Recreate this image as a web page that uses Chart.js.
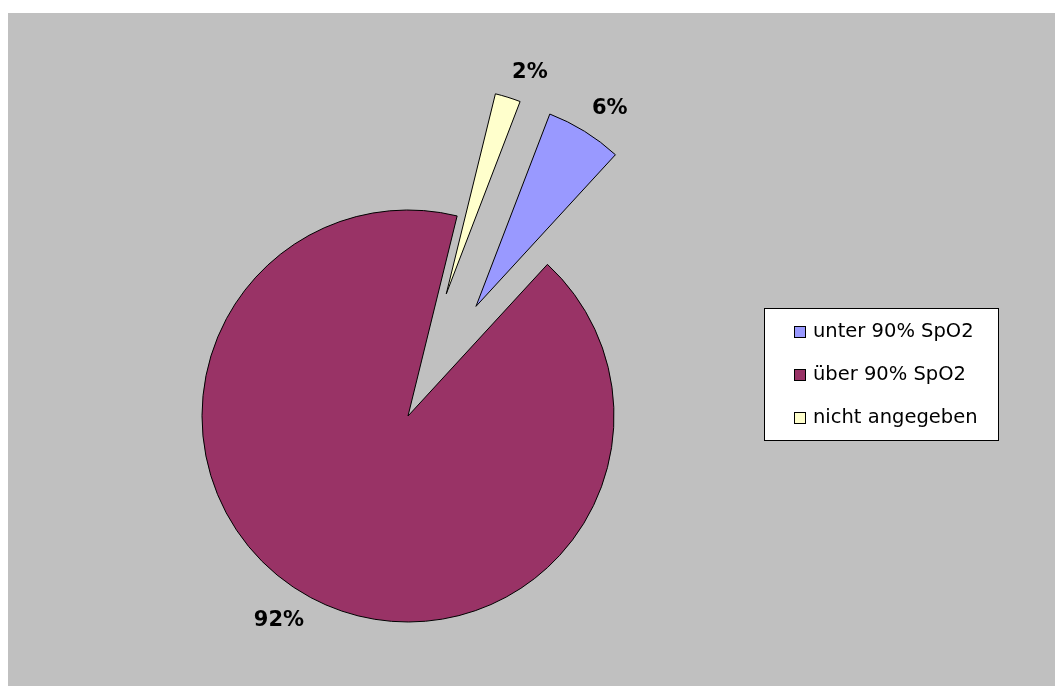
<!DOCTYPE html>
<html>
<head>
<meta charset="utf-8">
<title>SpO2</title>
<script src="https://cdn.jsdelivr.net/npm/chart.js@4/dist/chart.umd.min.js"></script>
<style>
  html, body { margin: 0; padding: 0; background: #ffffff; }
  #wrap { position: relative; width: 1055px; height: 686px; }
</style>
</head>
<body>
<div id="wrap"><canvas id="c" width="1055" height="686"></canvas></div>
<script>
// Anteile der Messwerte (Prozent)
const categories = ['unter 90% SpO2', 'über 90% SpO2', 'nicht angegeben'];
const shares = [6, 92, 2];

// Darstellung
const sliceColors = ['#9999FF', '#993366', '#FFFFCC'];
const explodeBy = [129, 0, 128];
const pieRadius = 206;

// grauer Zeichenbereich
const plotBackground = {
  id: 'plotBackground',
  beforeDraw(chart) {
    const ctx = chart.ctx;
    ctx.save();
    ctx.fillStyle = '#C0C0C0';
    ctx.fillRect(8, 13, chart.width - 8, chart.height - 13);
    ctx.restore();
  }
};

// herausgezogene Segmente
const explodeSlices = {
  id: 'explodeSlices',
  afterDatasetsUpdate(chart) {
    const area = chart.chartArea;
    const cx = (area.left + area.right) / 2;
    const cy = (area.top + area.bottom) / 2;
    chart.getDatasetMeta(0).data.forEach((arc, i) => {
      const d = explodeBy[i] || 0;
      const mid = (arc.startAngle + arc.endAngle) / 2;
      arc.x = cx + Math.cos(mid) * d;
      arc.y = cy + Math.sin(mid) * d;
    });
  }
};

// Prozentbeschriftung außerhalb der Segmente: die innere Ecke des
// Textfeldes liegt knapp außerhalb des Bogens auf der Winkelhalbierenden
const sliceLabels = {
  id: 'sliceLabels',
  afterDatasetsDraw(chart) {
    const ctx = chart.ctx;
    const values = chart.data.datasets[0].data;
    ctx.save();
    ctx.font = 'bold 21px "DejaVu Sans"';
    ctx.fillStyle = '#000000';
    ctx.textAlign = 'center';
    ctx.textBaseline = 'middle';
    chart.getDatasetMeta(0).data.forEach((arc, i) => {
      const text = values[i] + '%';
      const mid = (arc.startAngle + arc.endAngle) / 2;
      const r = arc.outerRadius + 14;
      const cos = Math.cos(mid), sin = Math.sin(mid);
      const halfW = ctx.measureText(text).width / 2;
      const halfH = 11;
      const x = arc.x + cos * r + Math.sign(cos) * halfW;
      const y = arc.y + sin * r + Math.sign(sin) * halfH;
      ctx.fillText(text, x, y);
    });
    ctx.restore();
  }
};

// Legende mit Rahmen
const boxedLegend = {
  id: 'boxedLegend',
  afterDraw(chart) {
    const ctx = chart.ctx;
    const x = 764, y = 308, w = 235, h = 133;
    ctx.save();
    ctx.fillStyle = '#ffffff';
    ctx.fillRect(x, y, w, h);
    ctx.strokeStyle = '#000000';
    ctx.lineWidth = 1;
    ctx.strokeRect(x + 0.5, y + 0.5, w - 1, h - 1);
    ctx.font = '19.5px "DejaVu Sans"';
    ctx.textBaseline = 'middle';
    ctx.textAlign = 'left';
    chart.data.labels.forEach((label, i) => {
      const rowY = 332 + i * 43;
      ctx.fillStyle = chart.data.datasets[0].backgroundColor[i];
      ctx.fillRect(794, rowY - 6, 12, 12);
      ctx.strokeStyle = '#000000';
      ctx.strokeRect(794.5, rowY - 5.5, 11, 11);
      ctx.fillStyle = '#000000';
      ctx.fillText(label, 813, rowY);
    });
    ctx.restore();
  }
};

new Chart(document.getElementById('c'), {
  type: 'pie',
  data: {
    labels: categories,
    datasets: [{
      data: shares,
      backgroundColor: sliceColors,
      borderColor: '#000000',
      borderWidth: 1,
      borderJoinStyle: 'miter'
    }]
  },
  options: {
    responsive: false,
    animation: false,
    events: [],
    rotation: 21,
    radius: pieRadius,
    layout: { padding: { left: 0, right: 239, top: 146, bottom: 0 } },
    plugins: {
      legend: { display: false },
      tooltip: { enabled: false },
      title: { display: false }
    }
  },
  plugins: [plotBackground, explodeSlices, sliceLabels, boxedLegend]
});
</script>
</body>
</html>
